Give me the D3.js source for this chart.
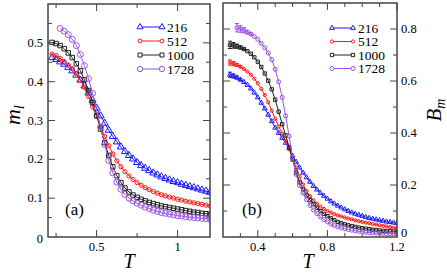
<!DOCTYPE html>
<html>
<head>
<meta charset="utf-8">
<script src="https://cdn.jsdelivr.net/npm/d3@7/dist/d3.min.js"></script>
<style>
body { margin: 0; background: #fff; }
svg { display: block; }
text { font-family: "Liberation Serif", serif; }
</style>
</head>
<body>
<script>
// ---------------------------------------------------------------------
// Data: panel (a) m_l(T), panel (b) B_m(T), for N = 216, 512, 1000, 1728

var sizes = ["216", "512", "1000", "1728"];

var tempA = [0.225, 0.25, 0.275, 0.30, 0.325, 0.35, 0.375, 0.40, 0.425, 0.45,
             0.475, 0.50, 0.525, 0.55, 0.575, 0.60, 0.625, 0.65, 0.675, 0.70,
             0.725, 0.75, 0.775, 0.80, 0.825, 0.85, 0.875, 0.90, 0.925, 0.95,
             0.975, 1.00, 1.025, 1.05, 1.075, 1.10, 1.125, 1.15, 1.175, 1.20];
var tempA1728 = [0.275, 0.30, 0.325, 0.35, 0.375, 0.40, 0.425, 0.45,
                 0.475, 0.50, 0.525, 0.55, 0.575, 0.60, 0.625, 0.65, 0.675, 0.70,
                 0.725, 0.75, 0.775, 0.80, 0.825, 0.85, 0.875, 0.90, 0.925, 0.95,
                 0.975, 1.00, 1.025, 1.05, 1.075, 1.10, 1.125, 1.15, 1.175, 1.20];

var mA216 = [0.462, 0.457, 0.451, 0.445, 0.437, 0.428, 0.417, 0.404, 0.389, 0.371,
             0.352, 0.332, 0.312, 0.293, 0.275, 0.259, 0.245, 0.232, 0.220, 0.210,
             0.201, 0.192, 0.184, 0.177, 0.171, 0.165, 0.160, 0.155, 0.151, 0.147,
             0.143, 0.140, 0.136, 0.133, 0.130, 0.127, 0.124, 0.121, 0.118, 0.115];
var mA512 = [0.471, 0.467, 0.460, 0.452, 0.443, 0.433, 0.421, 0.405, 0.385, 0.362,
             0.336, 0.310, 0.284, 0.259, 0.235, 0.214, 0.196, 0.181, 0.168, 0.157,
             0.148, 0.140, 0.133, 0.127, 0.122, 0.117, 0.113, 0.109, 0.106, 0.103,
             0.100, 0.097, 0.095, 0.092, 0.090, 0.088, 0.086, 0.084, 0.082, 0.080];
var mA1000 = [0.501, 0.498, 0.493, 0.485, 0.474, 0.462, 0.446, 0.428, 0.405, 0.377,
              0.346, 0.313, 0.278, 0.243, 0.210, 0.181, 0.158, 0.140, 0.126, 0.116,
              0.108, 0.102, 0.097, 0.093, 0.089, 0.086, 0.083, 0.080, 0.078, 0.076,
              0.074, 0.072, 0.070, 0.068, 0.066, 0.064, 0.063, 0.061, 0.060, 0.058];
var mA1728 = [0.537, 0.530, 0.521, 0.509, 0.493, 0.470, 0.441, 0.408,
              0.370, 0.328, 0.283, 0.238, 0.197, 0.165, 0.141, 0.123, 0.110, 0.100,
              0.093, 0.087, 0.082, 0.077, 0.073, 0.069, 0.066, 0.063, 0.061, 0.059,
              0.057, 0.055, 0.054, 0.052, 0.051, 0.050, 0.049, 0.048, 0.047, 0.046];

var tempB = [0.24, 0.26, 0.28, 0.30, 0.32, 0.34, 0.36, 0.38, 0.40, 0.42,
             0.44, 0.46, 0.48, 0.50, 0.52, 0.54, 0.56, 0.58, 0.60, 0.62,
             0.64, 0.66, 0.68, 0.70, 0.72, 0.74, 0.76, 0.78, 0.80, 0.82,
             0.84, 0.86, 0.88, 0.90, 0.92, 0.94, 0.96, 0.98, 1.00, 1.02,
             1.04, 1.06, 1.08, 1.10, 1.12, 1.14, 1.16, 1.18, 1.20];
var tempB1728 = [0.28, 0.30, 0.32, 0.34, 0.36, 0.38, 0.40, 0.42,
                 0.44, 0.46, 0.48, 0.50, 0.52, 0.54, 0.56, 0.58, 0.60, 0.62,
                 0.64, 0.66, 0.68, 0.70, 0.72, 0.74, 0.76, 0.78, 0.80, 0.82,
                 0.84, 0.86, 0.88, 0.90, 0.92, 0.94, 0.96, 0.98, 1.00, 1.02,
                 1.04, 1.06, 1.08, 1.10, 1.12, 1.14, 1.16, 1.18, 1.20];

var bB216 = [0.624, 0.619, 0.613, 0.605, 0.596, 0.585, 0.571, 0.555, 0.537, 0.516,
             0.494, 0.470, 0.445, 0.420, 0.400, 0.381, 0.362, 0.341, 0.312, 0.289,
             0.267, 0.247, 0.229, 0.212, 0.196, 0.182, 0.169, 0.158, 0.147, 0.137,
             0.128, 0.120, 0.113, 0.106, 0.100, 0.094, 0.089, 0.085, 0.081, 0.077,
             0.073, 0.070, 0.067, 0.064, 0.062, 0.059, 0.057, 0.055, 0.053];
var bB512 = [0.671, 0.667, 0.662, 0.655, 0.646, 0.636, 0.624, 0.609, 0.591, 0.570,
             0.546, 0.518, 0.486, 0.455, 0.425, 0.398, 0.370, 0.338, 0.303, 0.267,
             0.232, 0.202, 0.177, 0.157, 0.141, 0.128, 0.117, 0.108, 0.100, 0.094,
             0.088, 0.083, 0.079, 0.075, 0.071, 0.068, 0.064, 0.061, 0.058, 0.055,
             0.053, 0.050, 0.048, 0.045, 0.043, 0.041, 0.038, 0.036, 0.034];
var bB1000 = [0.739, 0.737, 0.734, 0.729, 0.723, 0.715, 0.705, 0.691, 0.674, 0.654,
              0.629, 0.601, 0.568, 0.528, 0.482, 0.434, 0.391, 0.346, 0.298, 0.248,
              0.210, 0.183, 0.160, 0.142, 0.126, 0.112, 0.099, 0.089, 0.080, 0.072,
              0.065, 0.058, 0.053, 0.049, 0.045, 0.042, 0.039, 0.036, 0.034, 0.032,
              0.030, 0.028, 0.027, 0.025, 0.024, 0.023, 0.022, 0.021, 0.020];
var bB1728 = [0.805, 0.800, 0.795, 0.788, 0.781, 0.771, 0.760, 0.745,
              0.728, 0.708, 0.682, 0.645, 0.597, 0.537, 0.466, 0.388, 0.305, 0.241,
              0.198, 0.169, 0.144, 0.122, 0.104, 0.090, 0.078, 0.067, 0.058, 0.050,
              0.044, 0.039, 0.035, 0.032, 0.029, 0.026, 0.024, 0.022, 0.020, 0.018,
              0.017, 0.016, 0.015, 0.014, 0.014, 0.013, 0.013, 0.012, 0.012];

// error bars on the first low-T points of panel (b)
var errB216 = [0.010, 0.008, 0.006, 0.004];
var errB512 = [0.010, 0.008, 0.006, 0.004];
var errB1000 = [0.014, 0.011, 0.008, 0.006, 0.004];
var errB1728 = [0.016, 0.013, 0.010, 0.007, 0.005];

// ---------------------------------------------------------------------
// Setup

var W = 447, H = 273;
var svg = d3.select("body").append("svg").attr("width", W).attr("height", H)
    .attr("font-family", "Liberation Serif, serif");

var colors = ["#1a1aff", "#ff1a1a", "#222222", "#9b55e0"];
var shapes = [d3.symbolTriangle, d3.symbolCircle, d3.symbolSquare, d3.symbolCircle];

draw_panel({
    left: 48, right: 210, top: 4, bottom: 237,
    xdomain: [0.2, 1.2], ydomain: [0, 0.6],
    xmajor: [0.5, 1.0], xminor: [0.25, 0.75],
    xfmt: function(d) { return d === 1 ? "1" : d3.format(".1f")(d); },
    ymajor: [0, 0.1, 0.2, 0.3, 0.4, 0.5], yminor: [0.05, 0.15, 0.25, 0.35, 0.45, 0.55],
    yfmt: function(d) { return d === 0 ? "0" : d3.format(".1f")(d); },
    ylabels_right: false,
    zero_shift: 2,
    series: [[tempA, mA216], [tempA, mA512], [tempA, mA1000], [tempA1728, mA1728]],
    errors: null,
    marker_sizes: [22, 14, 20, 28],
    legend: { x0: 140, x1: 162, tx: 167, ys: [27, 41, 55, 69], msizes: [16, 12, 16, 22] },
    tag: { text: "(a)", x: 65, y: 215 }
});

draw_panel({
    left: 223, right: 397, top: 3, bottom: 237,
    xdomain: [0.2, 1.2], ydomain: [0, 0.9],
    xmajor: [0.4, 0.8, 1.2], xminor: [0.3, 0.5, 0.6, 0.7, 0.9, 1.0, 1.1],
    xfmt: d3.format(".1f"),
    ymajor: [0, 0.2, 0.4, 0.6, 0.8], yminor: [0.1, 0.3, 0.5, 0.7],
    yfmt: function(d) { return d === 0 ? "0" : d3.format(".1f")(d); },
    ylabels_right: true,
    zero_shift: -4,
    series: [[tempB, bB216], [tempB, bB512], [tempB, bB1000], [tempB1728, bB1728]],
    errors: [errB216, errB512, errB1000, errB1728],
    marker_sizes: [10, 8, 11, 13],
    legend: { x0: 332, x1: 353, tx: 358, ys: [28, 41.5, 55, 68.5], msizes: [10, 8, 11, 13] },
    tag: { text: "(b)", x: 242, y: 215 }
});

// axis titles
svg.append("text")
    .attr("transform", "translate(20,115) rotate(-90)")
    .attr("text-anchor", "middle")
    .style("font-size", "22px").style("font-style", "italic")
    .html('m<tspan dy="4" font-size="15px">l</tspan>');
svg.append("text")
    .attr("transform", "translate(441,110) rotate(-90)")
    .attr("text-anchor", "middle")
    .style("font-size", "21px").style("font-style", "italic")
    .html('B<tspan dy="4" font-size="14px">m</tspan>');
svg.append("text").attr("x", 129).attr("y", 268).attr("text-anchor", "middle")
    .style("font-size", "20px").style("font-style", "italic").text("T");
svg.append("text").attr("x", 308).attr("y", 268).attr("text-anchor", "middle")
    .style("font-size", "20px").style("font-style", "italic").text("T");

// ---------------------------------------------------------------------
// Definitions

function draw_panel(o) {
    var x = d3.scaleLinear().domain(o.xdomain).range([o.left, o.right]),
        y = d3.scaleLinear().domain(o.ydomain).range([o.bottom, o.top]);
    var g = svg.append("g");
    var clip_id = "clip" + o.left;
    g.append("clipPath").attr("id", clip_id).append("rect")
        .attr("x", o.left).attr("y", o.top)
        .attr("width", o.right - o.left).attr("height", o.bottom - o.top);

    // ticks, inward on all four sides
    var ax = "#444";
    function xticks(vals, len) {
        vals.forEach(function(v) {
            g.append("line").attr("x1", x(v)).attr("x2", x(v))
                .attr("y1", o.bottom).attr("y2", o.bottom - len).attr("stroke", ax);
            g.append("line").attr("x1", x(v)).attr("x2", x(v))
                .attr("y1", o.top).attr("y2", o.top + len).attr("stroke", ax);
        });
    }
    function yticks(vals, len) {
        vals.forEach(function(v) {
            g.append("line").attr("x1", o.left).attr("x2", o.left + len)
                .attr("y1", y(v)).attr("y2", y(v)).attr("stroke", ax);
            g.append("line").attr("x1", o.right).attr("x2", o.right - len)
                .attr("y1", y(v)).attr("y2", y(v)).attr("stroke", ax);
        });
    }
    xticks(o.xmajor, 7); xticks(o.xminor, 4);
    yticks(o.ymajor.slice(1), 7); yticks(o.yminor, 4);

    g.selectAll(".xl").data(o.xmajor).enter().append("text")
        .attr("x", function(d) { return x(d); }).attr("y", o.bottom + 14)
        .attr("text-anchor", "middle").style("font-size", "12.5px")
        .text(o.xfmt);
    g.selectAll(".yl").data(o.ymajor).enter().append("text")
        .attr("x", o.ylabels_right ? o.right + 4 : o.left - 5)
        .attr("y", function(d) { return y(d) + 4 + (d === 0 ? o.zero_shift : 0); })
        .attr("text-anchor", o.ylabels_right ? "start" : "end")
        .style("font-size", "12.5px")
        .text(o.yfmt);

    // curves
    var plot = g.append("g").attr("clip-path", "url(#" + clip_id + ")");
    o.series.forEach(function(s, i) {
        var pts = s[0].map(function(t, j) { return [t, s[1][j]]; });
        var line = d3.line().x(function(d) { return x(d[0]); }).y(function(d) { return y(d[1]); });
        plot.append("path").datum(pts).attr("d", line)
            .attr("fill", "none").attr("stroke", colors[i]).attr("stroke-width", 1);
        if (o.errors) {
            o.errors[i].forEach(function(e, j) {
                var px = x(pts[j][0]);
                plot.append("line").attr("x1", px).attr("x2", px)
                    .attr("y1", y(pts[j][1] - e)).attr("y2", y(pts[j][1] + e))
                    .attr("stroke", colors[i]).attr("stroke-width", 1);
                [pts[j][1] - e, pts[j][1] + e].forEach(function(v) {
                    plot.append("line").attr("x1", px - 2).attr("x2", px + 2)
                        .attr("y1", y(v)).attr("y2", y(v))
                        .attr("stroke", colors[i]).attr("stroke-width", 1);
                });
            });
        }
        var sym = d3.symbol().type(shapes[i]).size(o.marker_sizes[i]);
        plot.selectAll(null).data(pts).enter().append("path")
            .attr("transform", function(d) { return "translate(" + x(d[0]) + "," + y(d[1]) + ")"; })
            .attr("d", sym).attr("fill", "none")
            .attr("stroke", colors[i]).attr("stroke-width", 1);
    });

    // frame
    g.append("rect").attr("x", o.left).attr("y", o.top)
        .attr("width", o.right - o.left).attr("height", o.bottom - o.top)
        .attr("fill", "none").attr("stroke", ax).attr("stroke-width", 1.5);

    // legend
    var L = o.legend;
    sizes.forEach(function(name, i) {
        var yy = L.ys[i];
        var sym = d3.symbol().type(shapes[i]).size(L.msizes[i]);
        g.append("line").attr("x1", L.x0).attr("x2", L.x1).attr("y1", yy).attr("y2", yy)
            .attr("stroke", colors[i]).attr("stroke-width", 1);
        [L.x0, L.x1].forEach(function(xx) {
            g.append("path").attr("transform", "translate(" + xx + "," + yy + ")")
                .attr("d", sym).attr("fill", "#fff")
                .attr("stroke", colors[i]).attr("stroke-width", 1);
        });
        g.append("text").attr("x", L.tx).attr("y", yy + 4.5)
            .style("font-size", "13.5px").text(name);
    });

    g.append("text").attr("x", o.tag.x).attr("y", o.tag.y)
        .style("font-size", "17px").text(o.tag.text);
}
</script>
</body>
</html>
